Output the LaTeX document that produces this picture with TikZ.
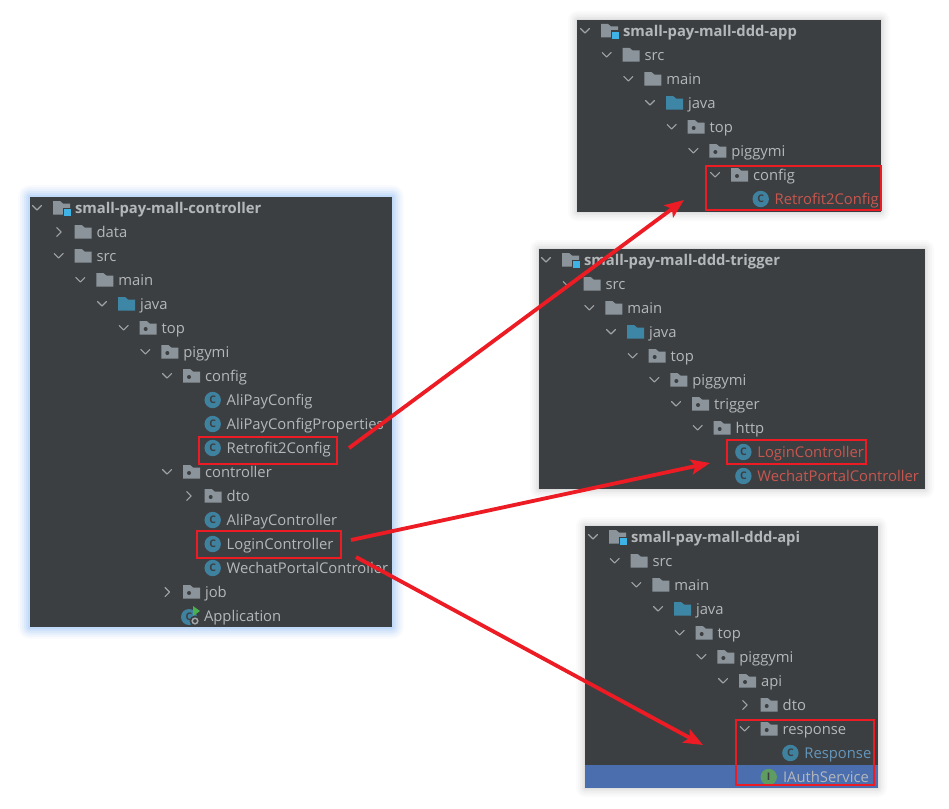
\documentclass[tikz,border=0pt]{standalone}
\usepackage{fontspec}
\setmainfont{Open Sans}
\usetikzlibrary{arrows.meta}
\definecolor{panelbg}{HTML}{3C3F41}
\definecolor{treetxt}{HTML}{B4B8BB}
\definecolor{foldc}{HTML}{8B949B}
\definecolor{javac}{HTML}{3E86A6}
\definecolor{classc}{HTML}{3F82A0}
\definecolor{chev}{HTML}{A0A4A6}
\definecolor{redmark}{HTML}{ED1C24}
\definecolor{modred}{HTML}{C7564F}
\definecolor{modblue}{HTML}{6496BC}
\definecolor{selrow}{HTML}{4B6EAF}
\definecolor{ifacec}{HTML}{5E9C62}
\definecolor{glowc}{HTML}{8DBDFA}
\definecolor{modsq}{HTML}{3FB3E6}
\tikzset{
  panel/.style={fill=panelbg,draw=none},
  treelabel/.style={anchor=base west,inner sep=0pt,outer sep=0pt,text=treetxt,font=\fontsize{14.8}{16}\selectfont},
  rootlabel/.style={treelabel,font=\fontsize{14.8}{16}\selectfont\bfseries},
  chevline/.style={draw=chev,line width=1.1pt,line cap=round,line join=round},
  markbox/.style={draw=redmark,line width=1.5pt,fill=none,inner sep=0pt,outer sep=0pt,anchor=north west},
  markarrow/.style={draw=redmark,line width=3.8pt,-{Stealth[length=19pt,width=15pt,inset=4pt]},shorten >=0pt},
  letterlabel/.style={inner sep=0pt,outer sep=0pt,text=panelbg,font=\fontsize{10.5}{11}\selectfont\bfseries}
}
\newcommand\panelbox[4]{% x1 y1 x2 y2 neutral shadow
  \foreach \s/\o in {9/0.015,7/0.02,5/0.025,3/0.03,1/0.04}{
    \fill[black,opacity=\o,rounded corners=\s pt] (#1-\s,#2-\s) rectangle (#3+\s,#4+\s);}
  \fill[panel] (#1,#2) rectangle (#3,#4);}
\newcommand\glowbox[4]{% blue glow
  \foreach \s/\o in {12/0.05,10/0.07,8/0.09,6/0.12,4/0.15,2/0.2}{
    \fill[glowc,opacity=\o,rounded corners=\s pt] (#1-\s,#2-\s) rectangle (#3+\s,#4+\s);}
  \fill[panel] (#1,#2) rectangle (#3,#4);}
\newcommand\chevdown[2]{\draw[chevline] (#1-4.5,#2-2.5) -- (#1,#2+2) -- (#1+4.5,#2-2.5);}
\newcommand\chevright[2]{\draw[chevline] (#1-2,#2-4.5) -- (#1+2.5,#2) -- (#1-2,#2+4.5);}
\newcommand\foldershape[3]{% x y colour
  \fill[#3] (#1,#2-7) -- (#1+7,#2-7) -- (#1+10,#2-4.5) -- (#1+17,#2-4.5) -- (#1+17,#2+6.5) -- (#1,#2+6.5) -- cycle;}
% row helpers; \cz is the x of the panel's root chevron
\newcommand\ChevAt[3]{% type level y
  \pgfmathsetmacro\cx{\cz+#2*21.67}
  \ifx#1d\chevdown{\cx}{#3}\fi
  \ifx#1r\chevright{\cx}{#3}\fi}
\newcommand\Plain[5]{% name level y chev text
  \ChevAt{#4}{#2}{#3}
  \pgfmathsetmacro\fx{\cz+16+#2*21.67}\pgfmathsetmacro\tx{\cz+38+#2*21.67}
  \foldershape{\fx}{#3}{foldc}
  \node[treelabel] (#1) at (\tx,#3+5.4) {#5};}
\newcommand\Java[4]{% name level y text
  \ChevAt{d}{#2}{#3}
  \pgfmathsetmacro\fx{\cz+16+#2*21.67}\pgfmathsetmacro\tx{\cz+38+#2*21.67}
  \foldershape{\fx}{#3}{javac}
  \node[treelabel] (#1) at (\tx,#3+5.4) {#4};}
\newcommand\Pkg[5]{% name level y chev text
  \ChevAt{#4}{#2}{#3}
  \pgfmathsetmacro\fx{\cz+16+#2*21.67}\pgfmathsetmacro\tx{\cz+38+#2*21.67}
  \foldershape{\fx}{#3}{foldc}
  \fill[panelbg] (\fx+6,#3+1) circle (2);
  \node[treelabel] (#1) at (\tx,#3+5.4) {#5};}
\newcommand\Root[3]{% name y text
  \ChevAt{d}{0}{#2}
  \pgfmathsetmacro\fx{\cz+16}\pgfmathsetmacro\tx{\cz+38}
  \foldershape{\fx}{#2}{foldc}
  \fill[panelbg] (\fx+9.5,#2-0.5) rectangle (\fx+18.5,#2+8.5);
  \fill[modsq] (\fx+11,#2+1) rectangle (\fx+18,#2+8);
  \node[rootlabel] (#1) at (\tx,#2+5.4) {#3};}
\newcommand\Cls[5]{% name level y textcolour text
  \pgfmathsetmacro\ix{\cz+24+#2*21.67}\pgfmathsetmacro\tx{\cz+38+#2*21.67}
  \fill[classc] (\ix,#3) circle (8.2);
  \node[letterlabel] at (\ix,#3) {C};
  \node[treelabel,text=#4] (#1) at (\tx,#3+5.4) {#5};}
\begin{document}
\begin{tikzpicture}[x=1pt,y=-1pt]
\useasboundingbox (0,0) rectangle (949,808);
\fill[white] (0,0) rectangle (949,808);

% ---------- left panel
\glowbox{30}{197}{392}{627}
\def\cz{37}
\Root{lroot}{208}{small-pay-mall-controller}
\Plain{ldata}{1}{232}{r}{data}
\Plain{lsrc}{1}{256}{d}{src}
\Plain{lmain}{2}{280}{d}{main}
\Java{ljava}{3}{304}{java}
\Pkg{ltop}{4}{328}{d}{top}
\Pkg{lpig}{5}{352}{d}{pigymi}
\Pkg{lconfig}{6}{376}{d}{config}
\Cls{lali}{7}{400}{treetxt}{AliPayConfig}
\Cls{lprops}{7}{424}{treetxt}{AliPayConfigProperties}
\Cls{lretro}{7}{448}{treetxt}{Retrofit2Config}
\Pkg{lctrl}{6}{472}{d}{controller}
\Pkg{ldto}{7}{496}{r}{dto}
\Cls{lalic}{7}{520}{treetxt}{AliPayController}
\Cls{llogin}{7}{544}{treetxt}{LoginController}
\Cls{lwechat}{7}{568}{treetxt}{WechatPortalController}
\Pkg{ljob}{6}{592}{r}{job}
\fill[classc] (189,617) circle (8);
\node[letterlabel] at (189,617) {C};
\fill[ifacec!80!green] (193,606) -- (200,611) -- (193,616) -- cycle;
\fill[panelbg] (195,621) circle (5.5);
\draw[chev,line width=1.5pt] (195,621) circle (2.8);
\node[treelabel] (lapp) at (204,621.4) {Application};

% ---------- app panel
\panelbox{577}{20}{881}{212}
\def\cz{585}
\Root{aroot}{31}{small-pay-mall-ddd-app}
\Plain{asrc}{1}{55}{d}{src}
\Plain{amain}{2}{79}{d}{main}
\Java{ajava}{3}{103}{java}
\Pkg{atop}{4}{127}{d}{top}
\Pkg{apig}{5}{151}{d}{piggymi}
\Pkg{aconfig}{6}{175}{d}{config}
\Cls{aretro}{7}{199}{modred}{Retrofit2Config}

% ---------- trigger panel
\panelbox{539}{249}{925}{489}
\def\cz{546}
\Root{troot}{260}{small-pay-mall-ddd-trigger}
\Plain{tsrc}{1}{284}{d}{src}
\Plain{tmain}{2}{308}{d}{main}
\Java{tjava}{3}{332}{java}
\Pkg{ttop}{4}{356}{d}{top}
\Pkg{tpig}{5}{380}{d}{piggymi}
\Pkg{ttrig}{6}{404}{d}{trigger}
\Pkg{thttp}{7}{428}{d}{http}
\Cls{tlogin}{8}{452}{modred}{LoginController}
\Cls{twechat}{8}{476}{modred}{WechatPortalController}

% ---------- api panel
\panelbox{585}{526}{878}{788}
\def\cz{593}
\fill[selrow] (585,765) rectangle (878,788);
\Root{iroot}{537}{small-pay-mall-ddd-api}
\Plain{isrc}{1}{561}{d}{src}
\Plain{imain}{2}{585}{d}{main}
\Java{ijava}{3}{609}{java}
\Pkg{itop}{4}{633}{d}{top}
\Pkg{ipig}{5}{657}{d}{piggymi}
\Pkg{iapi}{6}{681}{d}{api}
\Pkg{idto}{7}{705}{r}{dto}
\Pkg{iresp}{7}{729}{d}{response}
\Cls{iresponse}{8}{753}{modblue}{Response}
\fill[ifacec] (768.7,777) circle (8.2);
\node[letterlabel] at (768.7,777) {I};
\node[treelabel] (iauth) at (783,782.4) {IAuthService};

% ---------- red marks
\node[markbox,minimum width=138pt,minimum height=27pt] (boxretro) at (199,437) {};
\node[markbox,minimum width=144pt,minimum height=27pt] (boxlogin) at (197,531) {};
\node[markbox,minimum width=175pt,minimum height=44pt] (boxapp) at (706,166) {};
\node[markbox,minimum width=139pt,minimum height=24pt] (boxtrig) at (727,440) {};
\node[markbox,minimum width=138pt,minimum height=65pt] (boxapi) at (736,720) {};

\coordinate (s1) at (349,448);
\coordinate (e1) at (684,200);
\coordinate (s2) at (351,540);
\coordinate (e2) at (710,463);
\coordinate (s3) at (356,557);
\coordinate (e3) at (703,745);
\draw[markarrow] (s1) -- (e1);
\draw[markarrow] (s2) -- (e2);
\draw[markarrow] (s3) -- (e3);
\end{tikzpicture}
\end{document}
